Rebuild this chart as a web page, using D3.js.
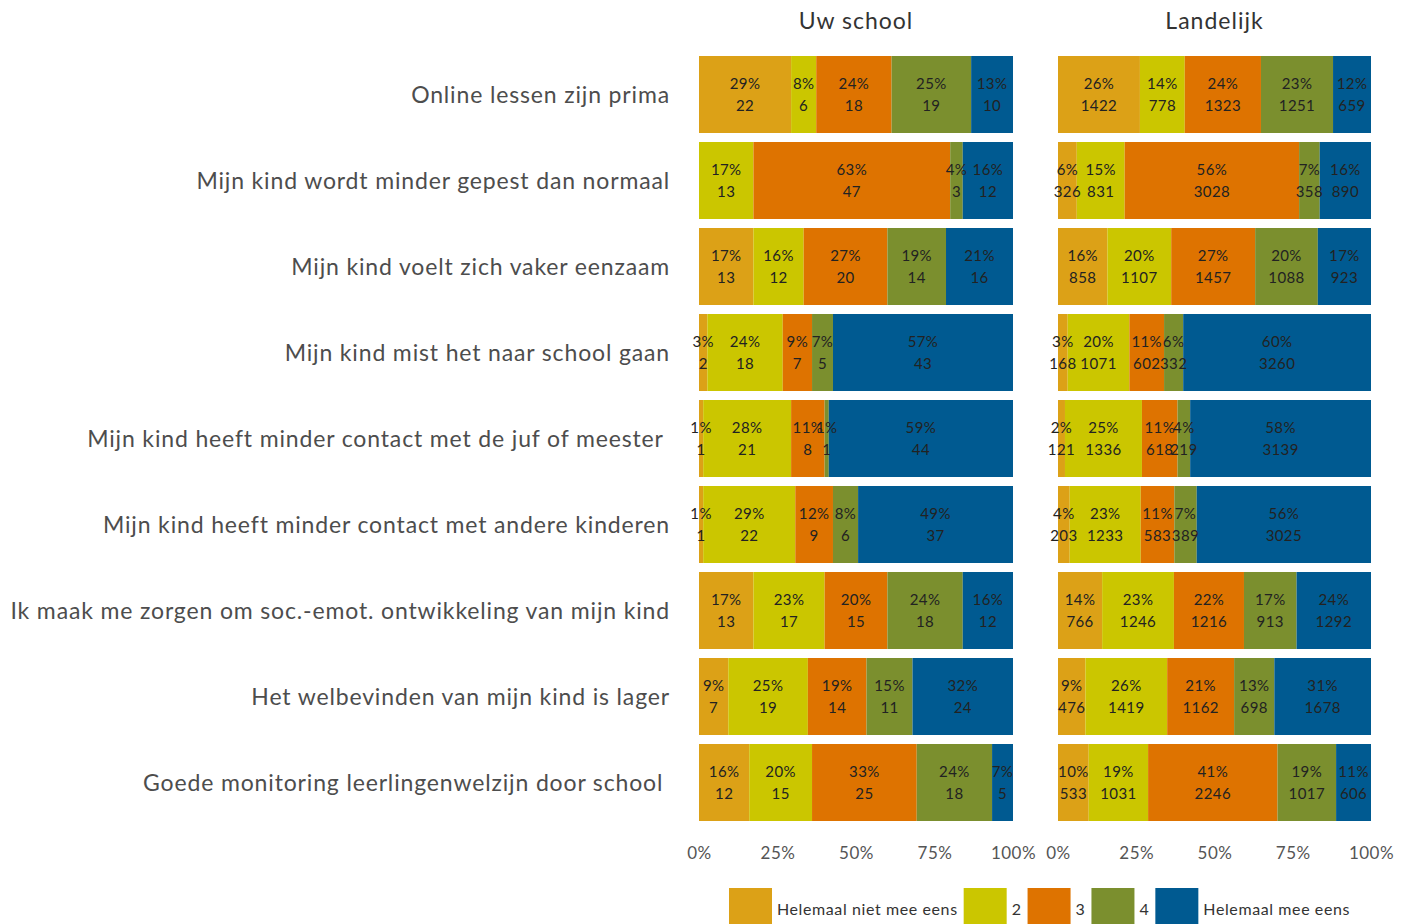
<!DOCTYPE html>
<html>
<head>
<meta charset="utf-8">
<script src="https://cdn.jsdelivr.net/npm/d3@7"></script>
<style>
  html, body { margin: 0; padding: 0; background: #fff; }
  svg { display: block; font-family: Lato, "Noto Sans", sans-serif; }
</style>
</head>
<body>
<svg id="chart" width="1410" height="924"></svg>
<script>
// statements (rows)
var statements = [
    'Online lessen zijn prima',
    'Mijn kind wordt minder gepest dan normaal',
    'Mijn kind voelt zich vaker eenzaam',
    'Mijn kind mist het naar school gaan',
    'Mijn kind heeft minder contact met de juf of meester\u00a0',
    'Mijn kind heeft minder contact met andere kinderen',
    'Ik maak me zorgen om soc.-emot. ontwikkeling van mijn kind',
    'Het welbevinden van mijn kind is lager',
    'Goede monitoring leerlingenwelzijn door school\u00a0'
];
var answers = ['Helemaal niet mee eens', '2', '3', '4', 'Helemaal mee eens'];
var colors = ['#dca117', '#cbc600', '#de7300', '#7b8f2e', '#005a91'];
var panels = ['Uw school', 'Landelijk'];

// answer counts per statement, in answer order
var schoolCounts = [
    [22, 6, 18, 19, 10],
    [0, 13, 47, 3, 12],
    [13, 12, 20, 14, 16],
    [2, 18, 7, 5, 43],
    [1, 21, 8, 1, 44],
    [1, 22, 9, 6, 37],
    [13, 17, 15, 18, 12],
    [7, 19, 14, 11, 24],
    [12, 15, 25, 18, 5]
];
var landelijkCounts = [
    [1422, 778, 1323, 1251, 659],
    [326, 831, 3028, 358, 890],
    [858, 1107, 1457, 1088, 923],
    [168, 1071, 602, 332, 3260],
    [121, 1336, 618, 219, 3139],
    [203, 1233, 583, 389, 3025],
    [766, 1246, 1216, 913, 1292],
    [476, 1419, 1162, 698, 1678],
    [533, 1031, 2246, 1017, 606]
];
var tickValues = [0, 0.25, 0.5, 0.75, 1];
var tickLabels = ['0%', '25%', '50%', '75%', '100%'];

var svg = d3.select('#chart');

var y = d3.scaleBand()
    .domain(statements)
    .range([56, 821])
    .paddingInner(9 / 86)
    .paddingOuter(0);

var xRanges = [[699, 1013], [1058, 1371]];
var allCounts = [schoolCounts, landelijkCounts];

// row labels
svg.append('g')
    .selectAll('text')
    .data(statements)
    .join('text')
    .attr('x', 670)
    .attr('y', d => y(d) + y.bandwidth() / 2)
    .attr('dy', '0.35em')
    .attr('text-anchor', 'end')
    .attr('fill', '#4d4d4d')
    .attr('font-size', 23)
    .attr('letter-spacing', 0.85)
    .text(d => d);

panels.forEach(function (name, p) {
    var x = d3.scaleLinear().domain([0, 1]).range(xRanges[p]);
    var counts = allCounts[p];

    var g = svg.append('g').attr('class', 'panel');

    g.append('text')
        .attr('x', (xRanges[p][0] + xRanges[p][1]) / 2)
        .attr('y', 21)
        .attr('dy', '0.35em')
        .attr('text-anchor', 'middle')
        .attr('fill', '#333')
        .attr('font-size', 23)
        .attr('letter-spacing', 1)
        .text(name);

    // stack each row into segments
    var segs = [];
    counts.forEach(function (row, i) {
        var total = d3.sum(row);
        var cum = 0;
        row.forEach(function (c, k) {
            segs.push({
                row: statements[i],
                k: k,
                count: c,
                x0: cum / total,
                x1: (cum + c) / total,
                pct: Math.round((c / total) * 100)
            });
            cum += c;
        });
    });

    g.append('g')
        .selectAll('rect')
        .data(segs)
        .join('rect')
        .attr('x', d => x(d.x0))
        .attr('y', d => y(d.row))
        .attr('width', d => x(d.x1) - x(d.x0))
        .attr('height', y.bandwidth())
        .attr('fill', d => colors[d.k]);

    var lab = g.append('g')
        .selectAll('g')
        .data(segs.filter(d => d.count > 0))
        .join('g')
        .attr('transform', d => 'translate(' + (x(d.x0) + x(d.x1)) / 2 + ',' + y(d.row) + ')');

    lab.append('text')
        .attr('y', 28)
        .attr('dy', '0.35em')
        .attr('text-anchor', 'middle')
        .attr('fill', '#222')
        .attr('font-size', 15)
        .attr('letter-spacing', 0.4)
        .text(d => d.pct + '%');

    lab.append('text')
        .attr('y', 50)
        .attr('dy', '0.35em')
        .attr('text-anchor', 'middle')
        .attr('fill', '#222')
        .attr('font-size', 15)
        .attr('letter-spacing', 0.4)
        .text(d => d.count);

    var axis = d3.axisBottom(x)
        .tickValues(tickValues)
        .tickFormat((d, i) => tickLabels[i])
        .tickSize(0)
        .tickPadding(0);

    var ax = g.append('g')
        .attr('transform', 'translate(0,847)')
        .call(axis);
    ax.select('.domain').remove();
    ax.selectAll('text')
        .attr('font-family', 'Lato, "Noto Sans", sans-serif')
        .attr('font-size', 17)
        .attr('letter-spacing', 0.5)
        .attr('fill', '#555');
});

// legend
var legend = svg.append('g').attr('class', 'legend');
var lx = 729;
answers.forEach(function (a, k) {
    legend.append('rect')
        .attr('x', lx)
        .attr('y', 888)
        .attr('width', 43)
        .attr('height', 43)
        .attr('fill', colors[k]);
    var t = legend.append('text')
        .attr('x', lx + 48)
        .attr('y', 909)
        .attr('dy', '0.35em')
        .attr('fill', '#333')
        .attr('font-size', 16)
        .attr('letter-spacing', 0.6)
        .text(a);
    lx += 48 + t.node().getComputedTextLength() + 6;
});
</script>
</body>
</html>
